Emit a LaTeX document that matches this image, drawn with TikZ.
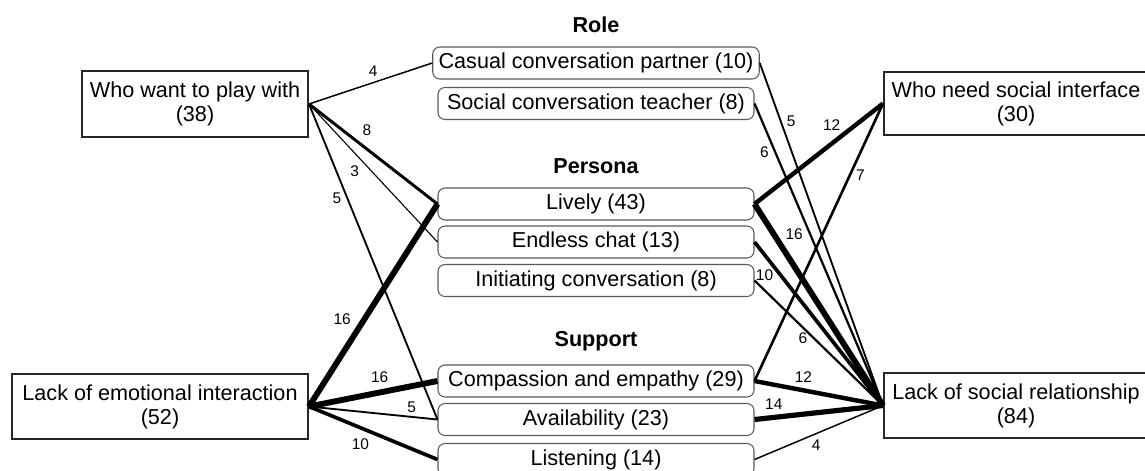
\documentclass[tikz,border=0pt]{standalone}
\usepackage{fontspec}
\setmainfont{Liberation Sans}
\usepackage{tikz}

\begin{document}
\begin{tikzpicture}[line width = 0.6pt,
		group/.style = {rectangle, draw = black!85, line width = 1.1pt,
		align = center, font = \fontsize{12.3}{13.6}\selectfont},
		item/.style = {rectangle, rounded corners = 4pt, draw = black!65,
		line width = 0.6pt, minimum width = 6.32cm, minimum height = 0.64cm,
		font = \fontsize{12.3}{13.6}\selectfont},
		title/.style = {anchor = base, font = \fontsize{12.3}{13.6}\selectfont\bfseries},
		flow/.style = {line width = #1*0.21pt},
		count/.style = {font = \fontsize{8.8}{10}\selectfont, inner sep = 2pt}]

	\useasboundingbox (0,0) rectangle (22.9,9.4);

	% user groups
	\node [group, minimum width = 4.52cm, minimum height = 1.32cm] (play) at (3.90,7.32)
		{Who want to play with\\(38)};
	\node [group, minimum width = 5.92cm, minimum height = 1.30cm] (emo) at (3.20,1.27)
		{Lack of emotional interaction\\(52)};
	\node [group, minimum width = 5.28cm, minimum height = 1.26cm] (iface) at (20.32,7.33)
		{Who need social interface\\(30)};
	\node [group, minimum width = 5.28cm, minimum height = 1.30cm] (rel) at (20.32,1.29)
		{Lack of social relationship\\(84)};

	% categories
	\node [title] (role) at (11.92,8.76) {Role};
	\node [item] (casual) at (11.92,8.14) {Casual conversation partner (10)};
	\node [item] (teacher) at (11.92,7.33) {Social conversation teacher (8)};

	\node [title] (persona) at (11.92,5.94) {Persona};
	\node [item] (lively) at (11.92,5.32) {Lively (43)};
	\node [item] (endless) at (11.92,4.56) {Endless chat (13)};
	\node [item] (initiating) at (11.92,3.79) {Initiating conversation (8)};

	\node [title] (support) at (11.92,2.48) {Support};
	\node [item] (empathy) at (11.92,1.78) {Compassion and empathy (29)};
	\node [item] (avail) at (11.92,1.01) {Availability (23)};
	\node [item] (listen) at (11.92,0.21) {Listening (14)};

	% left side
	\draw [flow=4] (play.east) -- node [count, pos=0.52, above=1pt] {4} (casual.west);
	\draw [flow=8] (play.east) -- node [count, pos=0.45, above=5pt] {8} (lively.west);
	\draw [flow=3] (play.east) -- node [count, pos=0.42, below left=0pt] {3} (endless.west);
	\draw [flow=5] (play.east) -- node [count, pos=0.3, left=1pt] {5} (avail.west);

	\draw [flow=16] (emo.east) -- node [count, pos=0.43, left=4pt] {16} (lively.west);
	\draw [flow=16] (emo.east) -- node [count, pos=0.55, above=2pt] {16} (empathy.west);
	\draw [flow=5] (emo.east) -- node [count, pos=0.8, above=0pt] {5} (avail.west);
	\draw [flow=10] (emo.east) -- node [count, pos=0.4, below=3pt] {10} (listen.west);

	% right side
	\draw [flow=5] (casual.east) -- node [count, pos=0.17, right=1pt] {5} (rel.west);
	\draw [flow=6] (teacher.east) -- node [count, pos=0.16, left=1pt] {6} (rel.west);
	\draw [flow=12] (lively.east) -- node [count, pos=0.6, above=4pt] {12} (iface.west);
	\draw [flow=16] (lively.east) -- node [count, pos=0.15, right=3pt] {16} (rel.west);
	\draw [flow=10] (endless.east) -- node [count, pos=0.2, left=1pt] {10} (rel.west);
	\draw [flow=6] (initiating.east) -- node [count, pos=0.46, left=1pt] {6} (rel.west);
	\draw [flow=7] (empathy.east) -- node [count, pos=0.74, right=1pt] {7} (iface.west);
	\draw [flow=12] (empathy.east) -- node [count, pos=0.38, above=1pt] {12} (rel.west);
	\draw [flow=14] (avail.east) -- node [count, pos=0.15, above=1pt] {14} (rel.west);
	\draw [flow=4] (listen.east) -- node [count, pos=0.48, below=1pt] {4} (rel.west);
\end{tikzpicture}
\end{document}
